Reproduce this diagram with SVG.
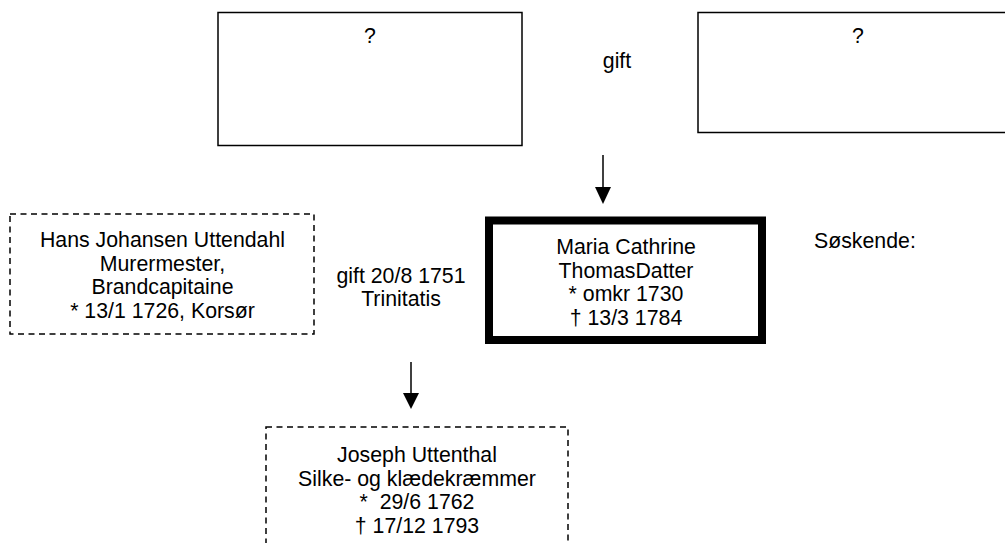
<svg xmlns="http://www.w3.org/2000/svg" width="1005" height="543" viewBox="0 0 1005 543">
<style>
text{font-family:"Liberation Sans",Arial,sans-serif;font-size:21.3px;fill:#000;text-anchor:middle}
.box{fill:#fff;stroke:#000;stroke-width:1.5}
.dash{fill:#fff;stroke:#000;stroke-width:1.5;stroke-dasharray:6 4.5}
.thick{fill:#fff;stroke:#000;stroke-width:8}
.conn{stroke:#000;stroke-width:1.5;fill:none}
.head{fill:#000}
</style>
<rect width="1005" height="543" fill="#fff"/>
<g id="father">
<rect class="box" x="218" y="12.5" width="304" height="133"/>
<text x="370" y="43">?</text>
</g>
<g id="mother">
<rect class="box" x="698" y="12.5" width="330" height="120"/>
<text x="858" y="43">?</text>
</g>
<g id="gift-top"><text x="617" y="68">gift</text></g>
<g id="hans">
<rect class="dash" x="10" y="214" width="304" height="120"/>
<text x="162.5" y="247">Hans Johansen Uttendahl</text>
<text x="162.5" y="270.7">Murermester,</text>
<text x="162.5" y="294.4">Brandcapitaine</text>
<text x="162.5" y="318">* 13/1 1726, Korsør</text>
</g>
<g id="gift-mid">
<text x="401" y="283">gift 20/8 1751</text>
<text x="401" y="306">Trinitatis</text>
</g>
<g id="maria">
<rect class="thick" x="489" y="220.5" width="273" height="119.5"/>
<text x="626" y="254">Maria Cathrine</text>
<text x="626" y="277.5">ThomasDatter</text>
<text x="626" y="301">* omkr 1730</text>
<text x="626" y="324.5">† 13/3 1784</text>
</g>
<g id="soskende"><text x="814" y="248" style="text-anchor:start">Søskende:</text></g>
<g id="joseph">
<rect class="dash" x="266" y="427" width="302" height="140"/>
<text x="417" y="462">Joseph Uttenthal</text>
<text x="417" y="485.5">Silke- og klædekræmmer</text>
<text x="417" y="509">*&#160; 29/6 1762</text>
<text x="417" y="532.5">† 17/12 1793</text>
</g>
<g id="connectors">
<line class="conn" x1="603" y1="155" x2="603" y2="189"/>
<path class="head" d="M595,187 L611,187 L603,204 Z"/>
<line class="conn" x1="411" y1="362" x2="411" y2="395"/>
<path class="head" d="M403,393 L419,393 L411,409 Z"/>
</g>
</svg>
